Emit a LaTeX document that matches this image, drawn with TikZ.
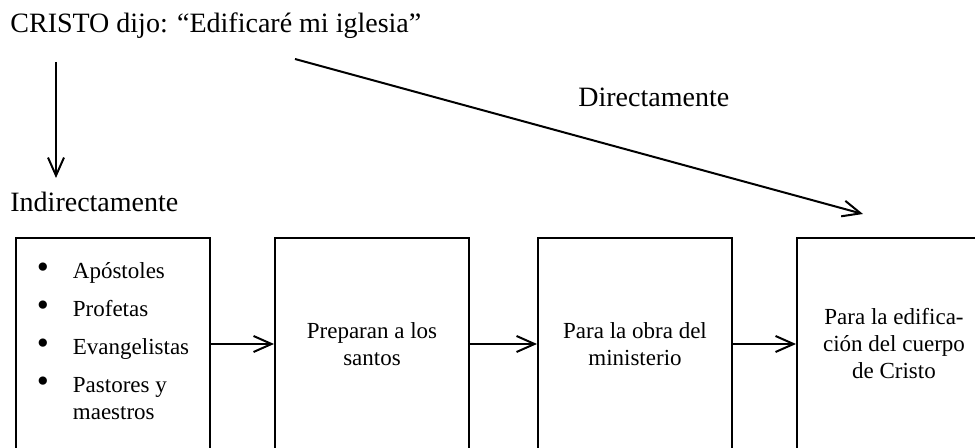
\documentclass[tikz,border=0pt]{standalone}
\usepackage{fontspec}
\setmainfont{Liberation Serif}
\usetikzlibrary{calc, positioning, arrows.meta}
\def\stagesep{31.5pt}
\def\listdot{\scalebox{1.5}{\textbullet}}
\tikzstyle{stage}=[draw, line width=1pt, minimum width=97pt, minimum height=106pt, inner sep=0pt, align=center, font=\fontsize{11.5}{13.5}\selectfont]
\tikzstyle{caption}=[inner sep=0pt, anchor=base west, font=\fontsize{14}{16}\selectfont]
\tikzstyle{flow}=[-{Straight Barb[length=9pt,width=8pt]}, line width=1pt]

\begin{document}
\begin{tikzpicture}[x=0.5pt, y=-0.5pt]
		\useasboundingbox (0,0) rectangle (975,448);
		\clip (0,0) rectangle (975,448);
		% Headings
		\node[caption] (title) at (10,33) {CRISTO dijo: “Edificaré mi iglesia”};
		\node[caption] (direct) at (578,107) {Directamente};
		\node[caption] (indirect) at (10,212) {Indirectamente};
		% The four stages
		\node[stage, anchor=north west] (ministers) at (15,237) {\raisebox{2pt}{\begin{tabular}{@{}c@{\hspace{12pt}}l@{}}
				\listdot & Apóstoles\\[5.5pt]
				\listdot & Profetas\\[5.5pt]
				\listdot & Evangelistas\\[5.5pt]
				\listdot & Pastores y\\
				& maestros
			\end{tabular}}};
		\node[stage, right=\stagesep of ministers] (saints) {Preparan a los\\santos};
		\node[stage, right=33.5pt of saints] (work) {Para la obra del\\ministerio};
		\node[stage, right=\stagesep of work] (body) {Para la edifica-\\ción del cuerpo\\de Cristo};
		\foreach \source / \target in {ministers/saints, saints/work, work/body}
		\draw[flow] (\source) -- (\target);
		% From the title down to both ways
		\coordinate (fork) at (56,62);
		\coordinate (fork end) at (56,178);
		\coordinate (build) at (295,59);
		\coordinate (build end) at (863,214);
		\draw[flow] (fork) -- (fork end);
		\draw[flow] (build) -- (build end);
	\end{tikzpicture}
\end{document}
